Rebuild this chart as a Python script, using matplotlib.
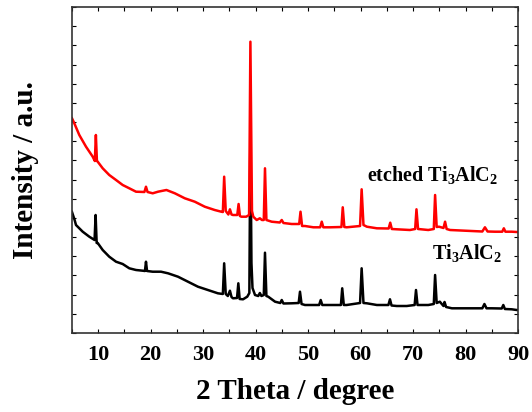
import matplotlib
matplotlib.use("Agg")
import matplotlib.pyplot as plt
import numpy as np
from matplotlib.ticker import MultipleLocator, FixedLocator

plt.rcParams['font.family'] = ['Liberation Serif', 'DejaVu Serif']
plt.rcParams['font.weight'] = 'bold'
plt.rcParams['mathtext.fontset'] = 'custom'
plt.rcParams['mathtext.rm'] = 'Liberation Serif:bold'
plt.rcParams['mathtext.bf'] = 'Liberation Serif:bold'
plt.rcParams['mathtext.it'] = 'Liberation Serif:bold:italic'

# Ti3AlC2 (black)
x_raw = [5.0, 5.5, 5.76, 7.04, 8.3, 9.3, 9.5, 9.7, 9.9, 10.85, 12.1, 13.39, 14.66, 15.92,
         17.2, 18.47, 18.9, 19.1, 19.3, 20.38, 21.96, 23.3, 25.2, 27.1, 29.0, 30.9, 32.8,
         33.75, 34.0, 34.3, 34.7, 35.1, 35.4, 35.68, 36.45, 36.7, 36.95, 37.6, 38.4, 38.8,
         39.0, 39.2, 39.4, 39.88, 40.5, 40.8, 41.1, 41.55, 41.78, 42.05, 42.4, 43.7, 44.7,
         44.97, 45.3, 46.87, 48.2, 48.45, 48.75, 49.4, 51.0, 52.1, 52.4, 52.7, 54.2, 56.25,
         56.5, 56.8, 57.35, 59.9, 60.2, 60.55, 61.2, 63.1, 65.3, 65.6, 65.9, 66.9, 68.8,
         70.3, 70.56, 70.85, 72.9, 73.95, 74.2, 74.5, 75.1, 75.8, 76.0, 76.3, 77.4, 79.9,
         83.2, 83.6, 84.0, 85.0, 86.9, 87.2, 87.5, 88.8, 89.75, 90.0]
y_raw = [121, 113, 108, 101.3, 96.3, 93, 118, 90, 90, 83, 76.3, 71.3, 69, 64.7,
         63, 62.3, 62, 71.3, 62, 61.3, 61.3, 59.7, 56.3, 51.3, 46.3, 43, 39.7,
         39, 69.7, 39, 37, 42.3, 36, 34.7, 35, 49.7, 34, 33.7, 36.3, 40,
         203, 70, 45, 38, 37, 40, 37, 38, 80.3, 37, 36.3, 31.3, 30,
         33, 29.5, 29.7, 30, 41.3, 29, 28, 28, 28, 33, 28, 28, 28,
         44.7, 28, 28, 30, 64.7, 30, 29.7, 28, 28, 33.7, 27.5, 27, 27,
         28, 43, 28, 28, 29, 58, 30, 31.3, 27, 31, 26, 24.7, 24.7,
         24.7, 29, 24.7, 24.7, 24.5, 28, 24, 23.7, 23, 23]

# etched Ti3AlC2 (red)
x_etch = [5.0, 5.44, 6.39, 7.67, 8.95, 9.35, 9.55, 9.75, 9.9, 10.85, 12.1, 13.39, 14.66,
          15.92, 17.2, 18.8, 19.1, 19.4, 20.38, 21.4, 23.0, 24.6, 26.5, 28.4, 30.3, 32.2,
          33.45, 33.75, 34.0, 34.3, 34.8, 35.1, 35.4, 35.68, 36.5, 36.75, 37.0, 37.27, 38.2,
          38.75, 39.0, 39.3, 39.55, 40.2, 40.8, 41.2, 41.55, 41.78, 42.05, 43.06, 44.6, 44.97,
          45.3, 46.87, 48.3, 48.55, 48.85, 49.4, 51.0, 52.3, 52.6, 52.9, 54.2, 56.35, 56.6,
          56.9, 57.35, 59.9, 60.2, 60.55, 61.2, 63.1, 65.35, 65.65, 65.95, 66.9, 69.4, 70.4,
          70.65, 70.95, 72.9, 73.95, 74.2, 74.5, 74.95, 75.8, 76.1, 76.4, 77.05, 79.9, 83.2,
          83.7, 84.2, 85.6, 87.0, 87.3, 87.6, 88.8, 89.75, 90.0]
y_etch = [214.7, 209.7, 198, 186.3, 176.3, 172, 198, 172, 171.3, 164.7, 158, 153, 148,
          144.7, 141.3, 141, 146.3, 141, 139.7, 141.3, 143, 139.7, 134.7, 131.3, 126.3, 123,
          121.3, 121, 156.3, 122, 118.5, 123.7, 118.5, 118, 118, 129, 117, 116.3, 116.3,
          118, 291.3, 122, 116.3, 113, 114.7, 113, 113, 164.7, 113, 111.3, 110.5, 113,
          110, 109, 109, 121.3, 107, 107, 105.7, 105.7, 111.3, 105.7, 105.7, 106, 125.7,
          106, 105.7, 107, 143.7, 108, 106.3, 104.7, 104.5, 110.3, 104, 103.7, 103, 104,
          123.7, 104, 103, 104, 138, 106, 106.3, 105, 111.3, 104, 103, 102.3, 101.5,
          105.7, 101.5, 101.3, 101.3, 104.7, 101.3, 101.3, 101, 101]

label_etch = r'etched Ti$_3$AlC$_2$'
label_raw = r'Ti$_3$AlC$_2$'
xlabel = '2 Theta / degree'
ylabel = 'Intensity / a.u.'
xtick_vals = [10, 20, 30, 40, 50, 60, 70, 80, 90]

fig = plt.figure(figsize=(5.32, 4.12), dpi=100)
ax = fig.add_axes([72/532, 79/412, 446/532, 326/412])

ax.plot(x_raw, y_raw, color='black', lw=1.8)
ax.plot(x_etch, y_etch, color='red', lw=1.8)

ax.set_xlim(5, 90)
ax.set_ylim(0, 326)
ax.set_xticks(xtick_vals)
ax.xaxis.set_minor_locator(MultipleLocator(5))
ax.yaxis.set_major_locator(FixedLocator(np.linspace(0, 326, 18)))
ax.set_yticklabels([])
ax.tick_params(which='both', direction='in', top=True, right=True, length=3, width=0.8)
ax.tick_params(axis='x', labelsize=16, pad=9)
for lbl in ax.get_xticklabels():
    lbl.set_fontweight('bold')

for sp in ax.spines.values():
    sp.set_linewidth(1.2)
    sp.set_color('#333333')

ax.set_xlabel(xlabel, fontsize=21, fontweight='bold', labelpad=9)
ax.set_ylabel(ylabel, fontsize=21, fontweight='bold', labelpad=20)

ax.text(61.2, 158, label_etch, fontsize=14.5, fontweight='bold', va='center', ha='left')
ax.text(73.6, 80, label_raw, fontsize=14.5, fontweight='bold', va='center', ha='left')

fig.savefig('out.png', dpi=100)
